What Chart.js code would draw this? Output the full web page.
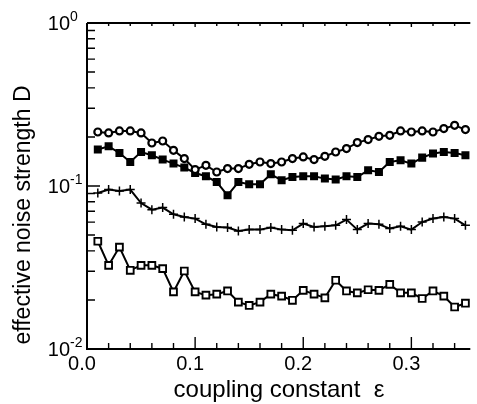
<!DOCTYPE html>
<html>
<head>
<meta charset="utf-8">
<script src="https://cdn.jsdelivr.net/npm/chart.js@4.4.0/dist/chart.umd.min.js"></script>
<style>
  body { margin: 0; background: #fff; }
  canvas { display: block; }
</style>
</head>
<body>
<canvas id="chartNoise" width="477" height="404"></canvas>
<script>
// coupling constant values (x)
const epsilon = [0.01, 0.02, 0.03, 0.04, 0.05, 0.06, 0.07, 0.08, 0.09, 0.10,
                 0.11, 0.12, 0.13, 0.14, 0.15, 0.16, 0.17, 0.18, 0.19, 0.20,
                 0.21, 0.22, 0.23, 0.24, 0.25, 0.26, 0.27, 0.28, 0.29, 0.30,
                 0.31, 0.32, 0.33, 0.34, 0.35];

// effective noise strength D, one array per curve
const dCircle = [0.2145, 0.2115, 0.2176, 0.2176, 0.2115, 0.1836, 0.1888, 0.1656, 0.1473, 0.1261,
                 0.1340, 0.1219, 0.1279, 0.1279, 0.1359, 0.1404, 0.1372, 0.1404, 0.1473, 0.1507,
                 0.1452, 0.1521, 0.1616, 0.1696, 0.1846, 0.1926, 0.2018, 0.2047, 0.2176, 0.2145,
                 0.2176, 0.2145, 0.2250, 0.2357, 0.2218];
const dSquare = [0.1673, 0.1752, 0.1594, 0.1404, 0.1616, 0.1543, 0.1452, 0.1372, 0.1297, 0.1202,
                 0.1147, 0.1058, 0.0877, 0.1058, 0.1024, 0.1024, 0.1180, 0.1084, 0.1135, 0.1147,
                 0.1147, 0.1110, 0.1095, 0.1147, 0.1135, 0.1248, 0.1219, 0.1404, 0.1438, 0.1372,
                 0.1493, 0.1581, 0.1616, 0.1594, 0.1543];
const dPlus = [0.0906, 0.0951, 0.0932, 0.0951, 0.0786, 0.0716, 0.0737, 0.0671, 0.0645, 0.0631,
               0.0582, 0.0560, 0.0556, 0.0530, 0.0540, 0.0540, 0.0556, 0.0540, 0.0535, 0.0588,
               0.0560, 0.0566, 0.0574, 0.0622, 0.0540, 0.0588, 0.0582, 0.0548, 0.0566, 0.0540,
               0.0601, 0.0631, 0.0645, 0.0631, 0.0574];
const dOpenSquare = [0.0458, 0.0326, 0.0422, 0.0304, 0.0326, 0.0326, 0.0311, 0.0224, 0.0301, 0.0224,
                     0.0214, 0.0217, 0.0227, 0.0194, 0.0185, 0.0194, 0.0217, 0.0211, 0.0199, 0.0229,
                     0.0217, 0.0206, 0.0264, 0.0227, 0.0221, 0.0231, 0.0229, 0.0249, 0.0221, 0.0221,
                     0.0204, 0.0227, 0.0211, 0.0181, 0.0191];

// axis ticks
const xTicks = [0.0, 0.1, 0.2, 0.3];
const xMinorTicks = [0.02, 0.04, 0.06, 0.08, 0.12, 0.14, 0.16, 0.18, 0.22, 0.24, 0.26, 0.28, 0.32, 0.34];
const yTicks = [0.01, 0.1, 1];
const yTickExp = ['-2', '-1', '0'];
const yMinorTicks = [0.02, 0.03, 0.04, 0.05, 0.06, 0.07, 0.08, 0.09,
                     0.2, 0.3, 0.4, 0.5, 0.6, 0.7, 0.8, 0.9];

const FONT = '"Liberation Sans", Arial, Helvetica, sans-serif';

function pts(ys) {
    return epsilon.map((x, i) => ({ x: x, y: ys[i] }));
}

// axes, ticks and labels drawn by hand (inward ticks, 10^n labels)
const frame = {
    id: 'frame',
    afterDraw(chart) {
        const ctx = chart.ctx;
        const xs = chart.scales.x;
        const ys = chart.scales.y;
        const a = chart.chartArea;
        ctx.save();
        ctx.strokeStyle = '#000';
        ctx.fillStyle = '#000';
        ctx.lineWidth = 2;

        // left + bottom + top lines
        ctx.beginPath();
        ctx.moveTo(a.left, a.top);
        ctx.lineTo(a.left, a.bottom);
        ctx.lineTo(a.right, a.bottom);
        ctx.moveTo(a.left, a.top);
        ctx.lineTo(a.right, a.top);
        ctx.stroke();

        ctx.lineWidth = 1.4;
        ctx.beginPath();
        yTicks.forEach(v => {
            const y = ys.getPixelForValue(v);
            ctx.moveTo(a.left, y); ctx.lineTo(a.left + 13, y);
        });
        yMinorTicks.forEach(v => {
            const y = ys.getPixelForValue(v);
            ctx.moveTo(a.left, y); ctx.lineTo(a.left + 8, y);
        });
        xTicks.forEach(v => {
            const x = xs.getPixelForValue(v);
            ctx.moveTo(x, a.bottom); ctx.lineTo(x, a.bottom - 12);
            ctx.moveTo(x, a.top); ctx.lineTo(x, a.top + 4);
        });
        xMinorTicks.forEach(v => {
            const x = xs.getPixelForValue(v);
            ctx.moveTo(x, a.bottom); ctx.lineTo(x, a.bottom - 6);
            ctx.moveTo(x, a.top); ctx.lineTo(x, a.top + 3);
        });
        ctx.stroke();

        // y labels 10^n
        yTicks.forEach((v, i) => {
            const y = ys.getPixelForValue(v);
            ctx.font = '20px ' + FONT;
            ctx.textAlign = 'right';
            ctx.textBaseline = 'alphabetic';
            ctx.fillText('10', 70, y + 7);
            ctx.font = '14px ' + FONT;
            ctx.textAlign = 'left';
            ctx.fillText(yTickExp[i], 70, y - 2);
        });

        // x labels
        ctx.font = '20px ' + FONT;
        ctx.textAlign = 'center';
        ctx.textBaseline = 'alphabetic';
        xTicks.forEach(v => {
            const x = xs.getPixelForValue(v);
            ctx.fillText(v.toFixed(1), x - 5, 370);
        });

        // axis titles
        ctx.font = '24px ' + FONT;
        ctx.fillText('coupling constant  \u03b5', 279, 397);
        ctx.font = '23px ' + FONT;
        ctx.translate(24, 215);
        ctx.rotate(-Math.PI / 2);
        ctx.textBaseline = 'middle';
        ctx.fillText('effective noise strength D', 0, 0);
        ctx.restore();
    }
};

const common = {
    borderColor: '#000',
    pointBorderColor: '#000',
    borderWidth: 2,
    pointBorderWidth: 1.8,
    tension: 0
};

new Chart(document.getElementById('chartNoise'), {
    type: 'line',
    data: {
        datasets: [
            Object.assign({}, common, {
                label: 'circles', data: pts(dCircle),
                pointStyle: 'circle', pointRadius: 3.5, pointBackgroundColor: '#fff', pointBorderWidth: 2.2
            }),
            Object.assign({}, common, {
                label: 'filled squares', data: pts(dSquare),
                pointStyle: 'rect', pointRadius: 4.4, pointBackgroundColor: '#000'
            }),
            Object.assign({}, common, {
                label: 'plus', data: pts(dPlus),
                pointStyle: 'cross', pointRadius: 4.5, pointBackgroundColor: '#000', pointBorderWidth: 1.5
            }),
            Object.assign({}, common, {
                label: 'open squares', data: pts(dOpenSquare),
                pointStyle: 'rect', pointRadius: 4.8, pointBackgroundColor: '#fff', pointBorderWidth: 1.9
            })
        ]
    },
    options: {
        responsive: false,
        animation: false,
        layout: { padding: { top: 23, right: 0, left: 0, bottom: 0 } },
        scales: {
            x: {
                type: 'linear', min: 0, max: 0.3545,
                grid: { display: false }, border: { display: false },
                ticks: { display: false },
                afterFit: s => { s.height = 55; }
            },
            y: {
                type: 'logarithmic', min: 0.01, max: 1,
                grid: { display: false }, border: { display: false },
                ticks: { display: false },
                afterFit: s => { s.width = 87; }
            }
        },
        plugins: {
            legend: { display: false },
            tooltip: { enabled: false }
        }
    },
    plugins: [frame]
});
</script>
</body>
</html>
